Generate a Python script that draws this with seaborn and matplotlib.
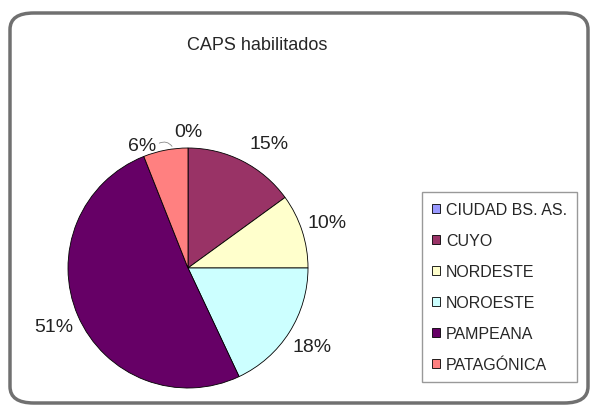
import matplotlib
matplotlib.use("Agg")
import matplotlib.pyplot as plt
import seaborn as sns
from matplotlib.patches import FancyBboxPatch

sns.set_style("white")
plt.rcParams["font.family"] = ["Liberation Sans", "DejaVu Sans"]

regiones = ["CIUDAD BS. AS.", "CUYO", "NORDESTE", "NOROESTE", "PAMPEANA", "PATAGÓNICA"]
porcentajes = [0, 15, 10, 18, 51, 6]
colores = ["#9999FF", "#993366", "#FFFFCC", "#CCFFFF", "#660066", "#FF8080"]

fig = plt.figure(figsize=(5.96, 4.10), dpi=100)

# marco redondeado
marco = FancyBboxPatch((10 / 596, 6 / 410), 578 / 596, 390 / 410,
                       boxstyle="round,pad=0,rounding_size=0.04",
                       transform=fig.transFigure, fill=False,
                       edgecolor="#707070", linewidth=2.5)
fig.patches.append(marco)

ax = fig.add_axes([(188 - 120) / 596, (410 - 389) / 410, 240 / 596, 240 / 410])
pal = sns.color_palette(colores)
wedges, texts, autotexts = ax.pie(porcentajes, colors=pal, startangle=90, counterclock=False,
                                  autopct="%1.0f%%", pctdistance=1.22,
                                  wedgeprops=dict(edgecolor="black", linewidth=0.6),
                                  textprops=dict(fontsize=14, color="#222222"))
ax.set_xlim(-1, 1)
ax.set_ylim(-1, 1)

# separar las etiquetas pequeñas de arriba
x, y = autotexts[0].get_position()
autotexts[0].set_position((x, y - 0.08))
x, y = autotexts[5].get_position()
autotexts[5].set_position((x - 0.15, y - 0.18))
x, y = autotexts[1].get_position()
autotexts[1].set_position((x + 0.12, y - 0.05))
ax.annotate("", xy=(-0.12, 0.995), xytext=(-0.26, 1.03),
            arrowprops=dict(arrowstyle="-", color="#888888", lw=0.6,
                            connectionstyle="arc3,rad=-0.5"))

fig.text(257 / 596, 1 - 46 / 410, "CAPS habilitados", ha="center", va="center", fontsize=13)

leg = fig.legend(wedges, regiones, loc="center",
                 bbox_to_anchor=(415 / 596, 21 / 410, 169 / 596, 202 / 410),
                 fontsize=11.5, labelspacing=1.0, handlelength=0.5, handleheight=0.5,
                 handletextpad=0.4, borderpad=0.6, fancybox=False,
                 edgecolor="#999999", framealpha=1)
leg.get_frame().set_linewidth(1.0)

fig.savefig("out.png", dpi=100)
